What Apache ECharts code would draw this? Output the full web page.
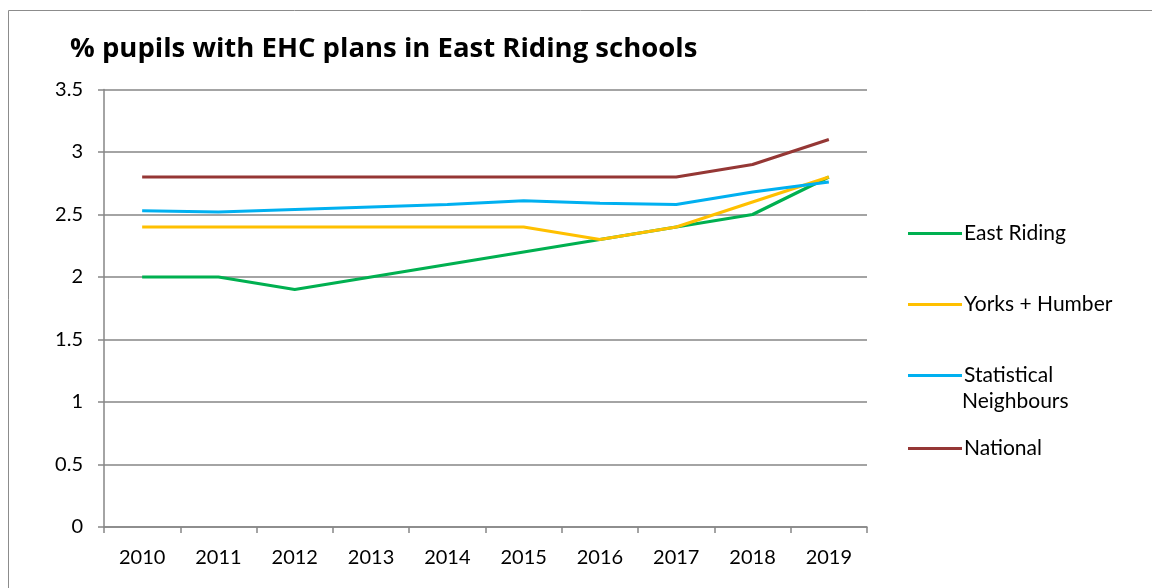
<!DOCTYPE html>
<html><head><meta charset="utf-8">
<script src="https://cdn.jsdelivr.net/npm/echarts@6/dist/echarts.min.js"></script>
<style>html,body{margin:0;padding:0;background:#fff}#c{width:1152px;height:588px}</style>
</head><body><div id="c"></div>
<script>
const years = ['2010','2011','2012','2013','2014','2015','2016','2017','2018','2019'];
const eastRiding = [2.0, 2.0, 1.9, 2.0, 2.1, 2.2, 2.3, 2.4, 2.5, 2.8];
const yorksHumber = [2.4, 2.4, 2.4, 2.4, 2.4, 2.4, 2.3, 2.4, 2.6, 2.8];
const statNeighbours = [2.53, 2.52, 2.54, 2.56, 2.58, 2.61, 2.59, 2.58, 2.68, 2.76];
const national = [2.8, 2.8, 2.8, 2.8, 2.8, 2.8, 2.8, 2.8, 2.9, 3.1];
const names = ['East Riding', 'Yorks + Humber', 'Statistical', 'National'];
const colors = ['#00B050', '#FFC000', '#00B0F0', '#953735'];
const values = [eastRiding, yorksHumber, statNeighbours, national];
const legendTops = [218, 289, 360, 433];
const FONT = 'Lato';

const chart = echarts.init(document.getElementById('c'));
chart.setOption({
  animation: false,
  title: {
    text: '% pupils with EHC plans in East Riding schools',
    left: 65, top: 30,
    textStyle: {fontFamily: 'Open Sans', fontWeight: 'bold', fontSize: 27.5, color: '#000'}
  },
  graphic: [
    {type: 'rect', shape: {x: 8.5, y: 10.5, width: 1160, height: 600},
     style: {fill: 'none', stroke: '#8c8c8c', lineWidth: 1}, silent: true},
    {type: 'text', left: 962, top: 391,
     style: {text: 'Neighbours', font: '21px ' + FONT, fill: '#000'}}
  ],
  legend: names.map((n, i) => ({
    data: [n], orient: 'vertical', left: 903, top: legendTops[i],
    itemWidth: 54, itemHeight: 18, itemGap: 4,
    icon: 'path://M0,8 L54,8 L54,11 L0,11 Z',
    textStyle: {fontFamily: FONT, fontSize: 21, color: '#000', padding: [0, 0, 0, -3]}
  })),
  grid: {left: 104, right: 285, top: 89.5, bottom: 61},
  xAxis: {
    type: 'category', data: years, boundaryGap: true,
    axisLine: {lineStyle: {color: '#868686', width: 1.5}},
    axisTick: {show: true, length: 6, lineStyle: {color: '#868686', width: 1.5}},
    axisLabel: {fontFamily: FONT, fontSize: 20, color: '#000', margin: 21}
  },
  yAxis: {
    type: 'value', min: 0, max: 3.5, interval: 0.5,
    axisLine: {show: true, lineStyle: {color: '#868686', width: 1.5}},
    axisTick: {show: true, length: 6, lineStyle: {color: '#868686', width: 1.5}},
    splitLine: {lineStyle: {color: '#868686', width: 1.5}},
    axisLabel: {fontFamily: FONT, fontSize: 20, color: '#000', margin: 21}
  },
  series: names.map((n, i) => ({
    name: n, type: 'line', data: values[i], symbol: 'none',
    lineStyle: {color: colors[i], width: 3.2}, itemStyle: {color: colors[i]}
  }))
});
</script></body></html>
